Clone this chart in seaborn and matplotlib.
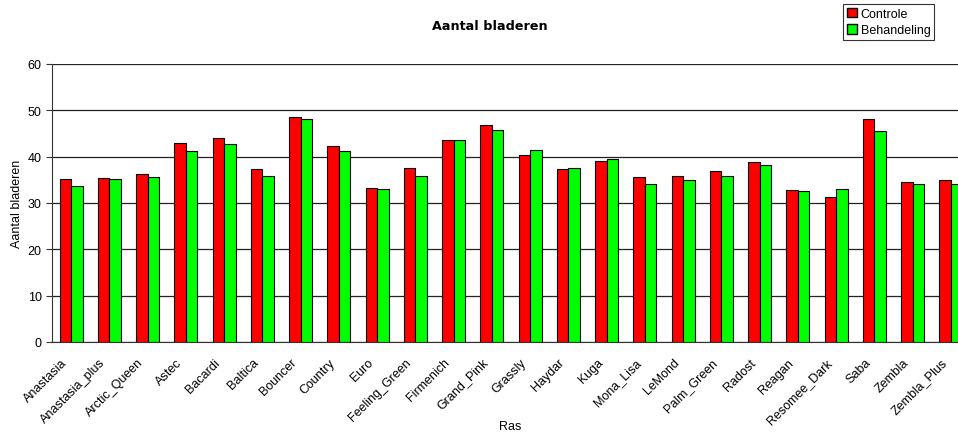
import numpy as np
import pandas as pd
import matplotlib
matplotlib.use("Agg")
import matplotlib.pyplot as plt
import matplotlib.transforms as mtransforms
import seaborn as sns
from matplotlib.patches import Patch

# data
rassen = ["Anastasia", "Anastasia_plus", "Arctic_Queen", "Astec", "Bacardi", "Baltica",
          "Bouncer", "Country", "Euro", "Feeling_Green", "Firmenich", "Grand_Pink",
          "Grassly", "Haydar", "Kuga", "Mona_Lisa", "LeMond", "Palm_Green", "Radost",
          "Reagan", "Resomee_Dark", "Saba", "Zembla", "Zembla_Plus"]
controle = [35.1, 35.4, 36.3, 42.9, 44.0, 37.3, 48.5, 42.4, 33.3, 37.6, 43.6, 46.8,
            40.3, 37.3, 39.1, 35.7, 35.9, 36.8, 38.9, 32.8, 31.2, 48.1, 34.5, 35.0]
behandeling = [33.6, 35.1, 35.7, 41.2, 42.7, 35.9, 48.1, 41.2, 33.0, 35.9, 43.6, 45.7,
               41.5, 37.6, 39.4, 34.2, 35.0, 35.9, 38.3, 32.6, 33.1, 45.5, 34.0, 34.0]
groepen = ["Controle", "Behandeling"]
kleuren = {"Controle": "#ff0000", "Behandeling": "#00ff00"}

df = pd.DataFrame({
    "Ras": rassen * 2,
    "Groep": ["Controle"] * len(rassen) + ["Behandeling"] * len(rassen),
    "Aantal": controle + behandeling,
})

sns.set_style("white")
plt.rcParams["font.family"] = ["Liberation Sans", "DejaVu Sans"]
plt.rcParams["text.color"] = "black"
plt.rcParams["axes.labelcolor"] = "black"
plt.rcParams["xtick.color"] = "black"
plt.rcParams["ytick.color"] = "black"

fig = plt.figure(figsize=(9.58, 4.35), dpi=100)
ax = fig.add_axes([52 / 958, 1 - 343 / 435, 918 / 958, 278 / 435])

sns.barplot(data=df, x="Ras", y="Aantal", hue="Groep", hue_order=groepen,
            palette=kleuren, width=0.6, edgecolor="black", linewidth=0.8,
            saturation=1, legend=False, ax=ax, zorder=3)

ax.set_ylim(0, 60)
ax.set_xlim(-0.5, len(rassen) - 0.5)
ax.set_yticks(np.arange(0, 61, 10))
ax.yaxis.grid(True, color="#222222", linewidth=0.9)
ax.set_axisbelow(True)
for s in ["top", "right"]:
    ax.spines[s].set_visible(False)
ax.spines["left"].set_color("#333333")
ax.spines["bottom"].set_color("#333333")

# category labels: slanted, placed a bit left of and below each group centre
ax.set_xticks(np.arange(len(rassen)))
ax.set_xticklabels([])
trans = ax.get_xaxis_transform() + mtransforms.ScaledTranslation(-10 / 100, -14 / 100, fig.dpi_scale_trans)
for i, naam in enumerate(rassen):
    ax.text(i, 0, naam, transform=trans, rotation=45, ha="right", va="top",
            rotation_mode="anchor", fontsize=9, clip_on=False)
ax.set_xticks(np.arange(-0.5, len(rassen), 1), minor=True)
ax.tick_params(axis="x", which="major", length=0)
ax.tick_params(axis="x", which="minor", length=4, color="#333333", direction="out")
ax.tick_params(axis="y", length=4, color="#333333", direction="out", labelsize=9, left=True)

ax.set_xlabel("Ras", fontsize=9)
ax.set_ylabel("Aantal bladeren", fontsize=9, labelpad=3)
ax.xaxis.set_label_coords((510 - 52) / 918, -(427 - 343) / 278)
ax.xaxis.label.set_va("center")

fig.text(490 / 958, 1 - 27 / 435, "Aantal bladeren", ha="center", va="center",
         fontsize=9.2, fontweight="bold", family="DejaVu Sans")

handles = [Patch(facecolor=kleuren[g], edgecolor="black", label=g) for g in groepen]
leg = fig.legend(handles=handles, loc="upper left", bbox_to_anchor=(843 / 958, 1 - 5 / 435),
                 fontsize=9, frameon=True, fancybox=False, handlelength=0.8,
                 handleheight=0.8, handletextpad=0.3, borderpad=0.3, labelspacing=0.35,
                 borderaxespad=0)
leg.get_frame().set_edgecolor("black")
leg.get_frame().set_linewidth(0.8)

fig.savefig("out.png", dpi=100)
